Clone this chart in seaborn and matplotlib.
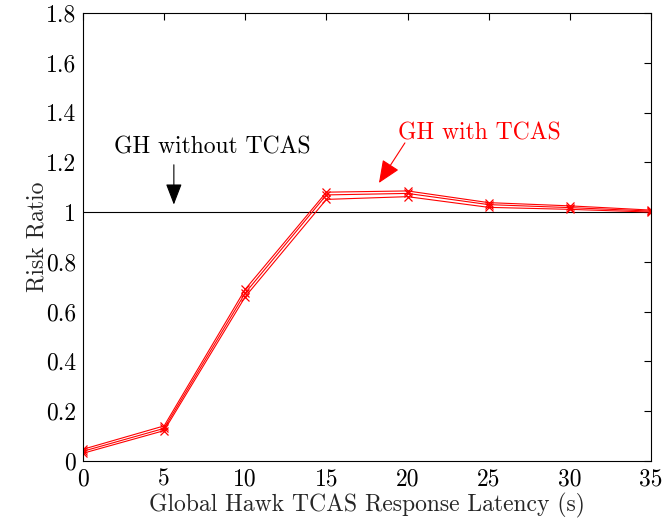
import numpy as np
import pandas as pd
import matplotlib
matplotlib.use("Agg")
import matplotlib.pyplot as plt
import seaborn as sns

latency = [0, 5, 10, 15, 20, 25, 30, 35]
risk_upper = [0.047, 0.141, 0.690, 1.080, 1.085, 1.038, 1.025, 1.008]
risk_mid = [0.039, 0.131, 0.675, 1.069, 1.075, 1.030, 1.018, 1.004]
risk_lower = [0.031, 0.122, 0.660, 1.051, 1.062, 1.019, 1.011, 1.000]
baseline = 1.0
xticks = [0, 5, 10, 15, 20, 25, 30, 35]
yticks = [0, 0.2, 0.4, 0.6, 0.8, 1, 1.2, 1.4, 1.6, 1.8]
ytick_labels = ["0", "0.2", "0.4", "0.6", "0.8", "1", "1.2", "1.4", "1.6", "1.8"]

sns.set_style("white")
plt.rcParams["font.family"] = ["cmr10", "DejaVu Serif"]
plt.rcParams["axes.formatter.use_mathtext"] = True
plt.rcParams["mathtext.fontset"] = "cm"

fig = plt.figure(figsize=(6.65, 5.19), dpi=100)
ax = fig.add_axes([0.1248, 0.1118, 0.854, 0.8632])

df = pd.DataFrame({
    "latency": latency * 3,
    "risk": risk_upper + risk_mid + risk_lower,
    "series": ["upper"] * 8 + ["mid"] * 8 + ["lower"] * 8,
})
for name in ["upper", "mid", "lower"]:
    sub = df[df["series"] == name]
    sns.lineplot(data=sub, x="latency", y="risk", ax=ax, color="red",
                 marker="x", markersize=6, markeredgewidth=0.9,
                 markeredgecolor="red", linewidth=0.8,
                 estimator=None, sort=False, legend=False)

ax.axhline(baseline, color="black", linewidth=0.8, zorder=1)

ax.set_xlim(0, 35)
ax.set_ylim(0, 1.8)
ax.set_xticks(xticks)
ax.set_xticklabels([str(t) for t in xticks])
ax.set_yticks(yticks)
ax.set_yticklabels(ytick_labels)
ax.tick_params(direction="in", length=5, width=0.8, top=True, right=True,
               labelsize=17, pad=5, colors="black")
for s in ax.spines.values():
    s.set_visible(True)
    s.set_color("black")
    s.set_linewidth(0.8)

ax.set_xlabel("Global Hawk TCAS Response Latency (s)", fontsize=17, labelpad=2)
ax.set_ylabel("Risk Ratio", fontsize=17, labelpad=-2)

ax.text(7.95, 1.258, "GH without TCAS", fontsize=17, ha="center", va="center", color="black")
ax.annotate("", xy=(5.6, 1.03), xytext=(5.6, 1.19),
            arrowprops=dict(arrowstyle="-|>,head_length=1.3,head_width=0.5",
                            mutation_scale=10, color="black", lw=0.8,
                            shrinkA=0, shrinkB=0))

ax.text(24.4, 1.318, "GH with TCAS", fontsize=17, ha="center", va="center", color="red")
ax.annotate("", xy=(18.24, 1.117), xytext=(19.84, 1.278),
            arrowprops=dict(arrowstyle="-|>,head_length=1.4,head_width=0.6",
                            mutation_scale=10, color="red", lw=0.8,
                            shrinkA=0, shrinkB=0))

fig.savefig("out.png", dpi=100)
